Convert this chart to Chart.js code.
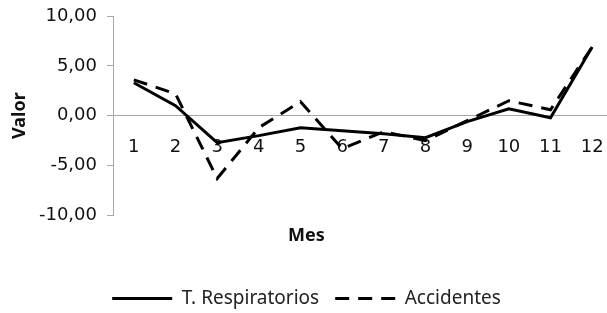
<!DOCTYPE html>
<html>
<head>
<meta charset="utf-8">
<script src="https://cdn.jsdelivr.net/npm/chart.js@4"></script>
<style>
  html, body { margin: 0; padding: 0; background: #fff; overflow: hidden; width: 607px; height: 313px; }
  #wrap { width: 613px; height: 313px; }
</style>
</head>
<body>
<div id="wrap"><canvas id="c" width="613" height="313"></canvas></div>
<script>
const months = ['1', '2', '3', '4', '5', '6', '7', '8', '9', '10', '11', '12'];
const respiratorios = [3.3, 1.0, -2.7, -2.0, -1.2, -1.5, -1.8, -2.2, -0.6, 0.7, -0.2, 6.9];
const accidentes = [3.6, 2.2, -6.3, -1.2, 1.4, -3.3, -1.6, -2.5, -0.5, 1.5, 0.6, 6.9];
const seriesNames = ['T. Respiratorios', 'Accidentes'];
const yMin = -10, yMax = 10, yStep = 5;

const axisGray = '#a6a6a6';
const textColor = '#111';

new Chart(document.getElementById('c'), {
  type: 'line',
  data: {
    labels: months,
    datasets: [
      {
        label: seriesNames[0],
        data: respiratorios,
        borderColor: '#000',
        backgroundColor: '#000',
        borderWidth: 3,
        pointRadius: 0,
        pointStyle: 'line',
        tension: 0,
        fill: false
      },
      {
        label: seriesNames[1],
        data: accidentes,
        borderColor: '#000',
        backgroundColor: '#000',
        borderWidth: 3,
        borderDash: [14, 9],
        pointRadius: 0,
        pointStyle: 'line',
        tension: 0,
        fill: false
      }
    ]
  },
  options: {
    responsive: false,
    animation: false,
    devicePixelRatio: 1,
    layout: { padding: { top: 16, left: 0, right: 0, bottom: -5 } },
    scales: {
      x: {
        type: 'category',
        position: { y: 0 },
        offset: true,
        afterFit: (s) => { s.paddingLeft = 0; s.paddingRight = 0; },
        grid: { display: false },
        border: { display: true, color: axisGray, width: 1 },
        ticks: {
          font: { family: 'DejaVu Sans', size: 18 },
          color: textColor,
          padding: 13,
          maxRotation: 0,
          autoSkip: false
        }
      },
      y: {
        min: yMin,
        max: yMax,
        afterFit: (s) => { s.width = 113; s.paddingTop = 0; s.paddingBottom = 0; },
        grid: { drawOnChartArea: false, drawTicks: true, tickLength: 6, color: axisGray },
        border: { display: true, color: axisGray, width: 1 },
        ticks: {
          stepSize: yStep,
          font: { family: 'DejaVu Sans', size: 18 },
          color: textColor,
          padding: 10,
          callback: (v) => v.toFixed(2).replace('.', ',')
        },
        title: {
          display: true,
          text: 'Valor',
          font: { family: 'Noto Sans', size: 18, weight: 'bold' },
          color: textColor,
          padding: { top: 9, bottom: 0 }
        }
      }
    },
    plugins: {
      title: {
        display: true,
        text: 'Mes',
        position: 'bottom',
        weight: 500,
        font: { family: 'Noto Sans', size: 18, weight: 'bold' },
        color: textColor,
        padding: { top: 10, bottom: 26 }
      },
      legend: {
        position: 'bottom',
        labels: {
          usePointStyle: true,
          pointStyle: 'line',
          pointStyleWidth: 60,
          font: { family: 'Noto Sans', size: 19 },
          color: '#222',
          padding: 16,
          generateLabels: (chart) => {
            const items = Chart.defaults.plugins.legend.labels.generateLabels(chart);
            items.forEach((it) => {
              const ds = chart.data.datasets[it.datasetIndex];
              it.lineDash = ds.borderDash || [];
              it.lineWidth = ds.borderWidth;
              it.strokeStyle = ds.borderColor;
              it.pointStyle = 'line';
            });
            return items;
          }
        }
      },
      tooltip: { enabled: false }
    }
  }
});
</script>
</body>
</html>
